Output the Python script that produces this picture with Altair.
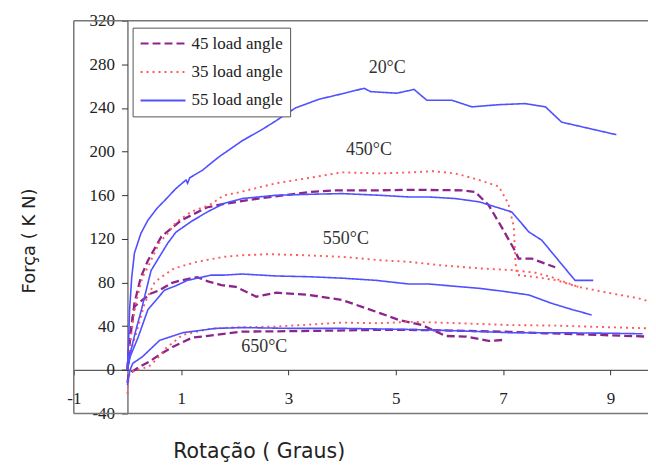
import altair as alt
import pandas as pd

# ---------------- data ----------------
SERIES = ["45 load angle", "35 load angle", "55 load angle"]

T20_55_x = [0, 0.02, 0.04, 0.08, 0.13, 0.25, 0.38, 0.55, 0.69, 0.9, 1.09, 1.12, 1.16, 1.4, 1.7, 2.14, 2.5, 2.76, 3.13, 3.57, 4.0, 4.41, 4.53, 5.02, 5.34, 5.58, 6.05, 6.42, 6.92, 7.41, 7.79, 8.09, 9.11]
T20_55_y = [0, 25, 55, 85, 107, 125, 137, 148, 155, 166, 174, 171, 176, 183, 195, 210, 220, 228, 240, 248, 253, 258, 255, 253.5, 257, 247, 247, 241, 243, 244, 241, 227, 215.5]

T450_35_x = [0, 0.05, 0.15, 0.28, 0.38, 0.6, 0.75, 0.9, 1.19, 1.53, 1.8, 2.02, 2.77, 3.4, 4.0, 4.69, 5.3, 5.7, 6.11, 6.55, 6.92, 7.1, 7.2, 7.23, 7.26, 7.6, 8.0, 8.4]
T450_35_y = [0, 25, 60, 85, 94, 117, 125, 135, 145, 151, 160, 162, 171, 176, 181, 180, 181, 182, 180, 174, 168, 152, 131, 98, 87, 85, 82, 76]

T450_45_x = [0, 0.03, 0.13, 0.25, 0.38, 0.63, 1.0, 1.49, 1.8, 2.51, 3.39, 3.88, 4.69, 5.25, 6.23, 6.48, 6.73, 6.97, 7.2, 7.29, 7.53, 7.97]
T450_45_y = [0, 20, 61, 85, 100, 122, 137, 149, 152, 157.5, 163, 164.5, 164.5, 165, 164.5, 163, 151, 131, 111, 102, 102, 94]

T450_55_x = [0, 0.05, 0.15, 0.26, 0.44, 0.6, 0.75, 0.9, 1.19, 1.5, 1.8, 2.14, 2.77, 3.5, 4.0, 4.69, 5.25, 5.62, 6.1, 6.55, 7.16, 7.48, 7.72, 8.34, 8.68]
T450_55_y = [0, 15, 35, 55, 91, 104, 116, 126, 136, 145, 152.5, 157, 160, 161, 161.5, 160, 158.4, 158.4, 157, 154, 144.7, 126.4, 118.8, 82, 82]

T550_35_x = [0, 0.08, 0.2, 0.32, 0.5, 0.6, 0.87, 1.3, 1.8, 2.14, 2.64, 3.3, 4.0, 4.69, 5.25, 5.8, 6.55, 7.16, 7.6, 7.9, 8.4, 9.02, 9.52, 9.7]
T550_35_y = [0, 20, 40, 61, 79.5, 84, 93, 99, 103.6, 105, 106, 105, 103.6, 100.5, 99, 96, 93, 91.4, 89, 85, 76, 70, 65.6, 63]

T550_45_x = [0, 0.04, 0.13, 0.28, 0.44, 0.6, 0.82, 1.0, 1.3, 1.5, 1.75, 2.02, 2.4, 2.77, 3.39, 4.0, 4.63, 5.06, 5.49, 5.93, 6.3, 6.73, 7.01]
T550_45_y = [0, 30, 58, 64, 70, 73, 79.5, 82, 85, 81, 77.7, 76, 67, 70.7, 68.6, 64, 53.3, 45.7, 41, 31, 30.5, 26.5, 27.4]

T550_55_x = [0, 0.05, 0.2, 0.38, 0.69, 0.9, 1.12, 1.56, 1.8, 2.14, 2.77, 3.39, 4.0, 4.63, 5.25, 5.62, 6.55, 7.0, 7.48, 7.9, 8.3, 8.65]
T550_55_y = [0, 12, 30, 55, 73, 77, 82, 86.8, 86.8, 87.8, 86, 85.3, 84, 82, 78.6, 78.6, 74.7, 72, 68.6, 61, 55, 50.3]

T650_35_x = [0, 0.02, 0.05, 0.2, 0.4, 0.55, 0.72, 1.03, 1.53, 2.0, 2.77, 4.0, 4.69, 5.25, 6.0, 7.16, 8.0, 9.0, 9.7]
T650_35_y = [-22, -8, -2, 0, 3, 10, 20, 32, 37.5, 39, 39.6, 43.3, 42.7, 44, 43, 41, 40.5, 39, 38]

T650_45_x = [0, 0.02, 0.08, 0.2, 0.41, 0.6, 0.84, 1.21, 1.65, 2.14, 3.39, 4.69, 5.25, 6.0, 7.0, 7.79, 8.5, 9.64, 9.7]
T650_45_y = [-12, -5, -2, 2, 7.6, 14, 21, 29.5, 32, 35, 35.6, 36.6, 36.6, 36, 35, 33.5, 32.5, 30.5, 30.5]

T650_55_x = [0, 0.02, 0.05, 0.1, 0.28, 0.6, 1.03, 1.65, 2.14, 3.0, 4.0, 5.25, 6.0, 7.16, 8.0, 9.0, 9.6]
T650_55_y = [-14, -6, 0, 6, 12, 27, 34, 38, 38.7, 38, 38, 37, 36, 34, 34, 33.5, 33]

TEMP_LABELS = ["20°C", "450°C", "550°C", "650°C"]
TEMP_X = [4.84, 4.5, 4.07, 2.55]
TEMP_Y = [277, 201, 120, 21]

X_TICKS = [-1, 1, 3, 5, 7, 9]
Y_TICKS = [-40, 0, 40, 80, 120, 160, 200, 240, 280, 320]

# ---------------- build table ----------------
curves = [
    ("20", "55 load angle", T20_55_x, T20_55_y),
    ("450", "35 load angle", T450_35_x, T450_35_y),
    ("450", "45 load angle", T450_45_x, T450_45_y),
    ("450", "55 load angle", T450_55_x, T450_55_y),
    ("550", "35 load angle", T550_35_x, T550_35_y),
    ("550", "45 load angle", T550_45_x, T550_45_y),
    ("550", "55 load angle", T550_55_x, T550_55_y),
    ("650", "35 load angle", T650_35_x, T650_35_y),
    ("650", "45 load angle", T650_45_x, T650_45_y),
    ("650", "55 load angle", T650_55_x, T650_55_y),
]
rows = []
for temp, ser, xs, ys in curves:
    for i, (xv, yv) in enumerate(zip(xs, ys)):
        rows.append({"curve": temp + "_" + ser, "series": ser, "i": i, "x": xv, "y": yv})
df = pd.DataFrame(rows)

XDOM = [-1, 9.7]
YDOM = [-40, 320]
W, H = 576, 394
px_per_x = W / (XDOM[1] - XDOM[0])
px_per_y = H / (YDOM[1] - YDOM[0])

xscale = alt.Scale(domain=XDOM, nice=False, zero=False)
yscale = alt.Scale(domain=YDOM, nice=False, zero=False)

SERIF = "Liberation Serif"
SANS = "DejaVu Sans"

x_enc = alt.X("x:Q", scale=xscale,
              axis=alt.Axis(values=X_TICKS, offset=-(0 - YDOM[0]) * px_per_y, title=None,
                            grid=False, tickSize=5, labelPadding=16,
                            labelExpr="'' + datum.value", labelFont=SERIF, labelFontSize=17,
                            labelColor="#222", domainColor="#333", tickColor="#333",
                            labelFlush=False))
y_enc = alt.Y("y:Q", scale=yscale,
              axis=alt.Axis(values=Y_TICKS, offset=-(0 - XDOM[0]) * px_per_x, title=None,
                            grid=False, tickSize=6, labelPadding=7,
                            labelExpr="'' + datum.value", labelFont=SERIF, labelFontSize=17,
                            labelColor="#222", domainColor="#333", tickColor="#333",
                            labelFlush=False))
color_enc = alt.Color("series:N",
                      scale=alt.Scale(domain=SERIES, range=["#8B258B", "#FF5A5A", "#5050FF"]),
                      legend=alt.Legend(title=None, orient="none", legendX=59, legendY=7,
                                        symbolType="stroke", symbolSize=2025,
                                        symbolStrokeWidth=2, labelFont=SERIF, labelFontSize=17,
                                        labelColor="#222", strokeColor="#555", fillColor="white",
                                        padding=7, rowPadding=10.5, clipHeight=18, labelOffset=5))
dash_enc = alt.StrokeDash("series:N",
                          scale=alt.Scale(domain=SERIES, range=[[8, 4], [2, 4], [1, 0]]),
                          legend=alt.Legend(title=None, orient="none", legendX=59, legendY=7))

WIDTHS = {"45 load angle": 2.3, "35 load angle": 1.9, "55 load angle": 1.6}
line_layers = []
for ser in SERIES:
    line_layers.append(
        alt.Chart(df[df["series"] == ser]).mark_line(clip=True, strokeWidth=WIDTHS[ser]).encode(
            x=x_enc, y=y_enc, color=color_enc, strokeDash=dash_enc,
            detail="curve:N", order="i:Q")
    )

frame_df = pd.DataFrame({"x": [XDOM[0]]})
left_border = alt.Chart(frame_df).mark_rule(color="#777", strokeWidth=1.5).encode(
    x=alt.X("x:Q", scale=xscale))
hb_df = pd.DataFrame({"y": YDOM})
h_borders = alt.Chart(hb_df).mark_rule(color="#777", strokeWidth=1.5).encode(
    y=alt.Y("y:Q", scale=yscale))

temp_df = pd.DataFrame({"t": TEMP_LABELS, "x": TEMP_X, "y": TEMP_Y})
temps = alt.Chart(temp_df).mark_text(font=SERIF, fontSize=18, color="#333").encode(
    x=alt.X("x:Q", scale=xscale), y=alt.Y("y:Q", scale=yscale), text="t:N")

ytitle = alt.Chart(pd.DataFrame({"t": ["Força ( K N)"]})).mark_text(
    font=SANS, fontSize=18, angle=270, color="#222").encode(
    text="t:N", x=alt.value(-44), y=alt.value(221))
xtitle = alt.Chart(pd.DataFrame({"t": ["Rotação ( Graus)"]})).mark_text(
    font=SANS, fontSize=20.5, color="#222").encode(
    text="t:N", x=alt.value(186), y=alt.value(433))

chart = alt.layer(h_borders, left_border, *line_layers, temps, ytitle, xtitle).properties(
    width=W, height=H,
    autosize=alt.AutoSizeParams(type="none"),
    padding={"left": 66, "top": 12, "right": 0, "bottom": 54},
).configure_view(stroke="transparent")

chart.save("out.html", embed_options={"renderer": "svg", "actions": False})
